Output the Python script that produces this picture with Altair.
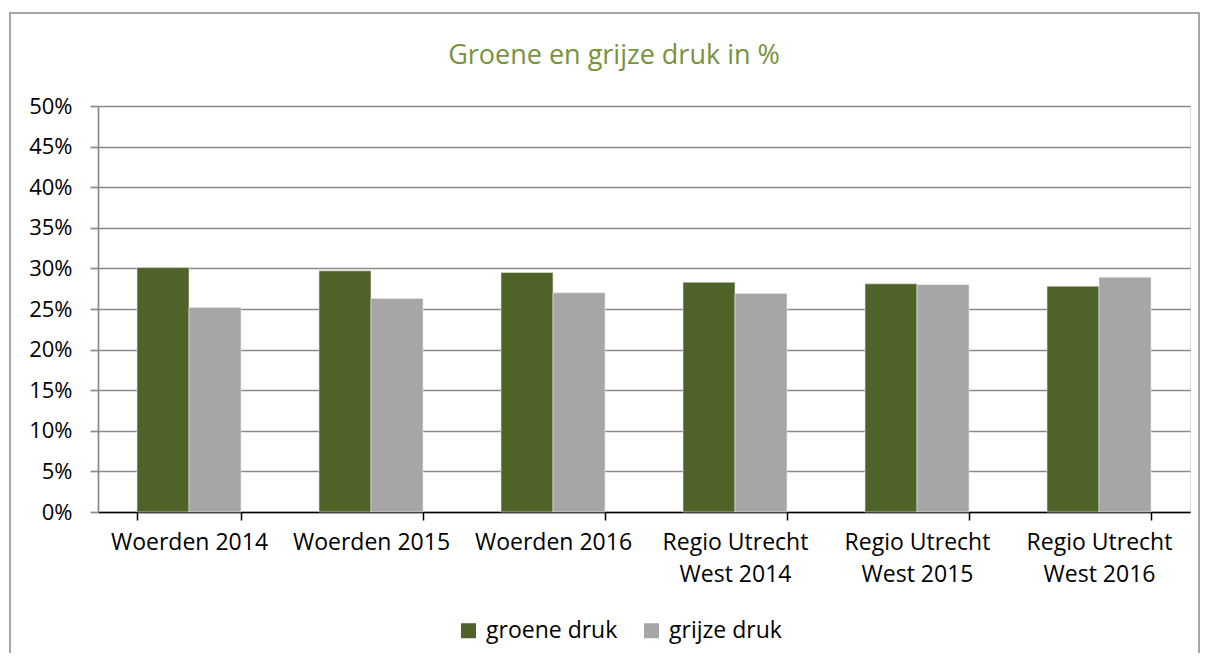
import altair as alt
import pandas as pd

categories = ["Woerden 2014", "Woerden 2015", "Woerden 2016",
              "Regio Utrecht West 2014", "Regio Utrecht West 2015", "Regio Utrecht West 2016"]
series_names = ["groene druk", "grijze druk"]
groene = [30.1, 29.7, 29.5, 28.3, 28.1, 27.8]
grijze = [25.2, 26.3, 27.0, 26.9, 28.0, 28.9]
y_ticks = [0, 5, 10, 15, 20, 25, 30, 35, 40, 45, 50]
title_text = "Groene en grijze druk in %"

rows = []
for c, g, r in zip(categories, groene, grijze):
    rows.append({"categorie": c, "reeks": series_names[0], "waarde": g / 100})
    rows.append({"categorie": c, "reeks": series_names[1], "waarde": r / 100})
df = pd.DataFrame(rows)

FONT = "Open Sans"
W, H = 1092, 406

bars = alt.Chart(df).mark_bar(stroke="#e8e8e8", strokeWidth=0.6).encode(
    x=alt.X("categorie:N", sort=categories, title=None,
            scale=alt.Scale(paddingInner=0.4286, paddingOuter=0.2143),
            axis=alt.Axis(labelAngle=0, tickBand="extent", tickSize=8, tickColor="#000000",
                          tickWidth=1.5, domainColor="#000000", domainWidth=1.5,
                          labelFont=FONT, labelFontSize=23, labelColor="#000000",
                          labelPadding=11, labelLineHeight=32, labelLimit=300,
                          labelExpr="indexof(datum.label, 'Regio Utrecht') == 0 ? ['Regio Utrecht', replace(datum.label, 'Regio Utrecht ', '')] : datum.label")),
    xOffset=alt.XOffset("reeks:N", sort=series_names),
    y=alt.Y("waarde:Q", title=None,
            scale=alt.Scale(domain=[0, 0.5], nice=False),
            axis=alt.Axis(values=[v / 100 for v in y_ticks], format=".0%",
                          grid=True, gridColor="#8a8a8a", gridWidth=1.7,
                          domainColor="#8a8a8a", domainWidth=1.7,
                          tickColor="#8a8a8a", tickSize=8, tickWidth=1.7,
                          labelFont=FONT, labelFontSize=22, labelColor="#000000",
                          labelPadding=18)),
    color=alt.Color("reeks:N", sort=series_names,
                    scale=alt.Scale(domain=series_names, range=["#4F6228", "#A6A6A6"]),
                    legend=alt.Legend(title=None, orient="none", direction="horizontal",
                                      legendX=359, legendY=513,
                                      symbolType="square", symbolSize=225,
                                      symbolStrokeWidth=0, labelFont=FONT,
                                      labelFontSize=23, labelColor="#000000",
                                      labelOffset=6, columnPadding=22)),
)

border = alt.Chart(alt.Data(values=[{}])).mark_rect(
    fill=None, stroke="#8a8a8a", strokeWidth=1.5
).encode(
    x=alt.value(-88), x2=alt.value(W + 9),
    y=alt.value(-93), y2=alt.value(H + 160),
)

title = alt.Chart(alt.Data(values=[{"t": title_text}])).mark_text(
    font=FONT, fontSize=27, color="#77933C", align="center", baseline="middle"
).encode(
    text="t:N", x=alt.value(516), y=alt.value(-50),
)

chart = alt.layer(border, bars, title).properties(
    width=W, height=H,
    autosize=alt.AutoSizeParams(type="none"),
    padding={"left": 90, "top": 98, "right": 10, "bottom": 141},
).configure_view(stroke=None).configure(background="#ffffff")

chart.save("out.html", embed_options={"renderer": "svg", "actions": False})
